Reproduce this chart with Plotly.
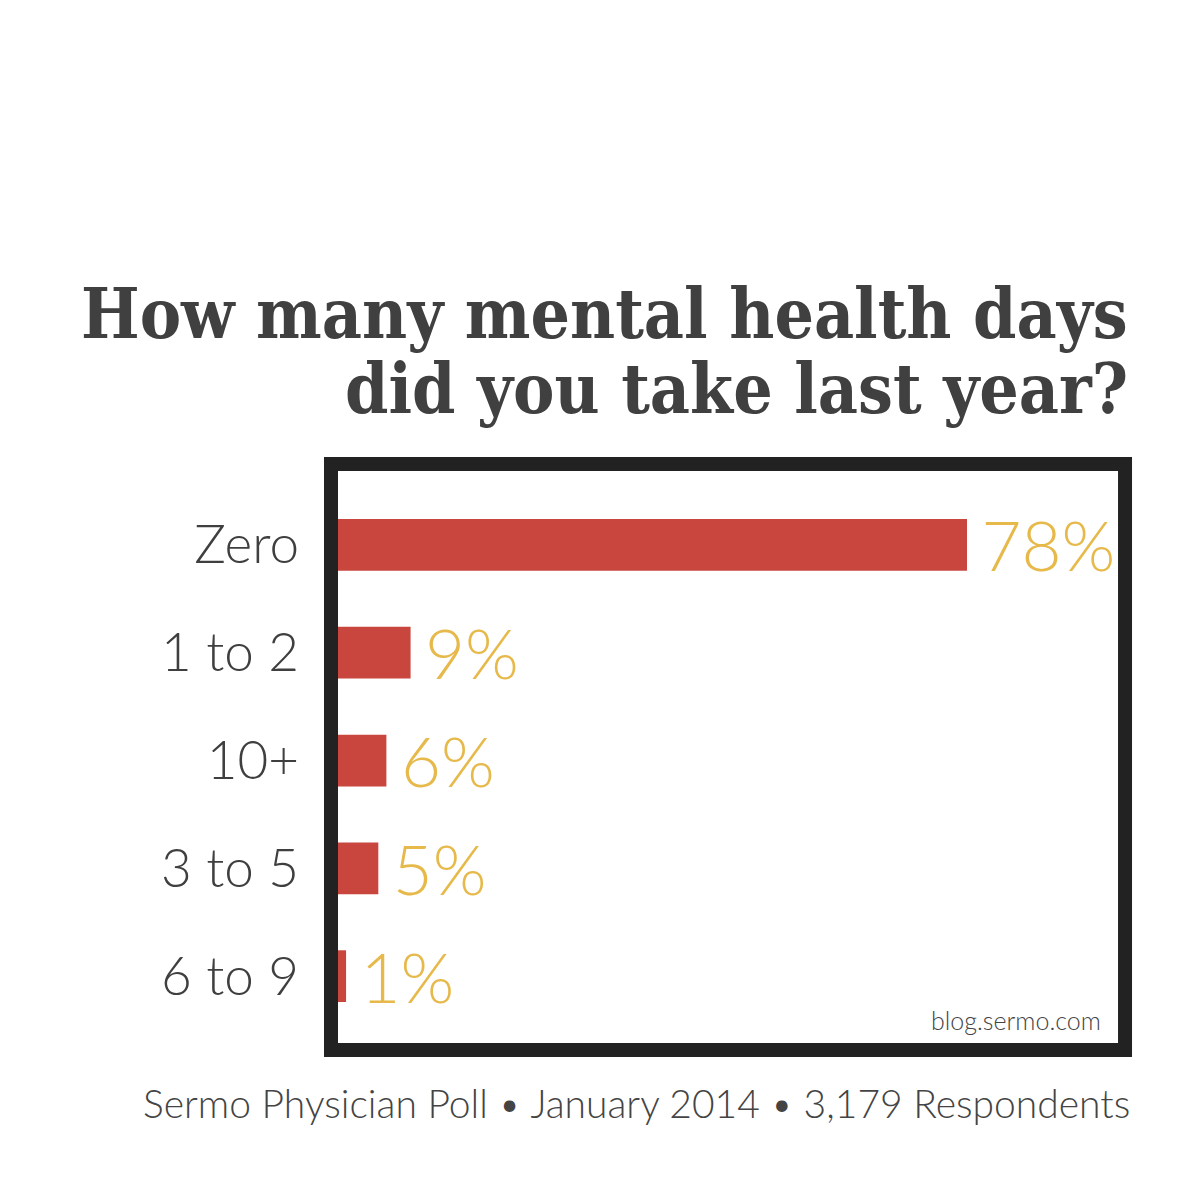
import plotly.graph_objects as go

categories = ["Zero", "1 to 2", "10+", "3 to 5", "6 to 9"]
values = [78, 9, 6, 5, 1]
value_labels = ["78%", "9%", "6%", "5%", "1%"]

title_line1 = "How many mental health days"
title_line2 = "did you take last year?"
footer = "Sermo Physician Poll \u2022 January 2014 \u2022 3,179 Respondents"
source = "blog.sermo.com"

BAR = "#C9463F"
GOLD = "#E6B94A"
DARK = "#3F3F3F"
LIGHT_FONT = "Lato Light, Lato, Open Sans, sans-serif"

fig = go.Figure()
fig.add_trace(go.Bar(
    x=values, y=categories, orientation="h",
    marker=dict(color=BAR, line=dict(width=0)),
    text=value_labels, texttemplate="\u2006%{text}",
    textposition="outside", constraintext="none",
    textfont=dict(color=GOLD, size=69, family=LIGHT_FONT, weight=300),
    cliponaxis=False, hoverinfo="skip",
))

fig.update_layout(
    width=1200, height=1200,
    margin=dict(l=330, r=91, t=463, b=165),
    paper_bgcolor="white", plot_bgcolor="white",
    bargap=0.52, showlegend=False,
    xaxis=dict(range=[0, 96.6], showgrid=False, zeroline=False,
               showticklabels=False, showline=False, fixedrange=True),
    yaxis=dict(categoryorder="array", categoryarray=categories,
               range=[4.62, -0.685], showgrid=False, zeroline=False,
               showline=False, ticks="", ticklabelstandoff=38,
               tickfont=dict(size=53, color=DARK, family=LIGHT_FONT, weight=300)),
)

# Border frame around plot area
fig.add_shape(type="rect", xref="paper", yref="paper",
              x0=-0.00899, x1=1.0103, y0=-0.01224, y1=1.01224,
              line=dict(color="#222222", width=14), fillcolor="rgba(0,0,0,0)",
              layer="above")

title_font = dict(family="DejaVu Serif Condensed, DejaVu Serif, serif", size=69,
                  color="#404040", weight="bold")
fig.add_annotation(text=title_line1, xref="paper", yref="paper",
                   x=1.0167, y=1.2745, xanchor="right", yanchor="middle",
                   showarrow=False, font=title_font)
fig.add_annotation(text=title_line2, xref="paper", yref="paper",
                   x=1.0167, y=1.1434, xanchor="right", yanchor="middle",
                   showarrow=False, font=title_font)
fig.add_annotation(text=footer, xref="paper", yref="paper",
                   x=1.0193, y=-0.1049, xanchor="right", yanchor="middle",
                   showarrow=False,
                   font=dict(family=LIGHT_FONT, size=39, color="#444444", weight=300))
fig.add_annotation(text=source, xref="paper", yref="paper",
                   x=0.982, y=0.0402, xanchor="right", yanchor="middle",
                   showarrow=False,
                   font=dict(family=LIGHT_FONT, size=25, color="#444444", weight=300))

fig.write_html("out.html")
